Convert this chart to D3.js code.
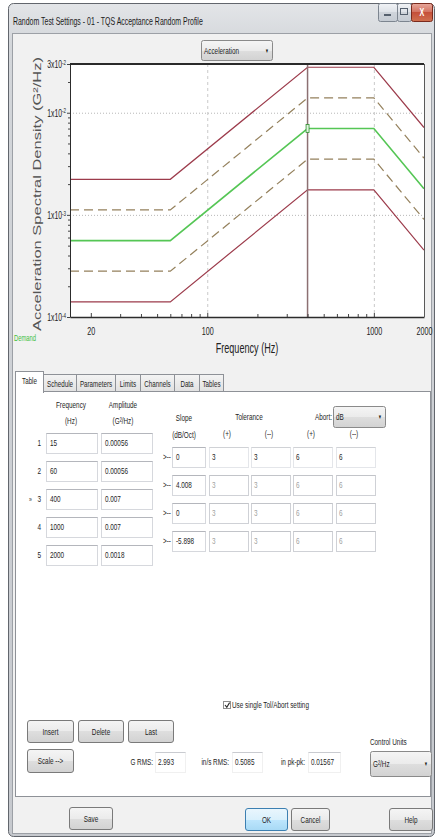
<!DOCTYPE html>
<html><head><meta charset="utf-8">
<script src="https://cdn.jsdelivr.net/npm/d3@7"></script>
<style>
html,body{margin:0;padding:0;background:#fff;}
svg{display:block;font-family:"Liberation Sans",Arial,sans-serif;}
</style></head><body>
<svg id="c" width="435" height="839"></svg>
<script>
// Random profile breakpoints
const freqHz = [15, 60, 400, 1000, 2000];
const amplitudeG2Hz = [0.00056, 0.00056, 0.007, 0.007, 0.0018];
const freqText = ["15", "60", "400", "1000", "2000"];
const amplitudeText = ["0.00056", "0.00056", "0.007", "0.007", "0.0018"];
const slopeDbOct = ["0", "4.008", "0", "-5.898"];
// Tolerance / abort limits per segment (dB)
const tolPlusDb = [3, 3, 3, 3];
const tolMinusDb = [3, 3, 3, 3];
const abortPlusDb = [6, 6, 6, 6];
const abortMinusDb = [6, 6, 6, 6];
const selectedRow = 2;
// Axis ticks
const xTickValues = [20, 100, 1000, 2000];
const yTickValues = [1e-4, 1e-3, 1e-2, 3e-2];
const yTickText = [["1x10", "-4"], ["1x10", "-3"], ["1x10", "-2"], ["3x10", "-2"]];
const tabNames = ["Table", "Schedule", "Parameters", "Limits", "Channels", "Data", "Tables"];
const summaryLabels = ["G RMS:", "in/s RMS:", "in pk-pk:"];
const summaryValues = ["2.993", "0.5085", "0.01567"];

const SX = 0.65; // narrow UI lettering
const svg = d3.select("#c");
const defs = svg.append("defs");
function grad(id, stops) {
  const g = defs.append("linearGradient").attr("id", id)
    .attr("x1", 0).attr("y1", 0).attr("x2", 0).attr("y2", 1);
  stops.forEach(([o, c]) => g.append("stop").attr("offset", o).attr("stop-color", c));
}
grad("gFrame", [[0, "#e3e5e8"], [0.05, "#d3d6da"], [1, "#c6c9ce"]]);
grad("gBtn", [[0, "#f5f5f5"], [0.5, "#ebebeb"], [0.5, "#dedede"], [1, "#d2d2d2"]]);
grad("gOk", [[0, "#eaf6fd"], [0.5, "#d9f0fc"], [0.5, "#bee6fd"], [1, "#a7d9f5"]]);
grad("gClose", [[0, "#e7a89c"], [0.45, "#d47563"], [0.5, "#c5503a"], [1, "#d0704f"]]);
grad("gCap", [[0, "#f1f3f6"], [0.5, "#dde1e7"], [0.5, "#cfd4db"], [1, "#c5cbd3"]]);
grad("gTab", [[0, "#f4f4f4"], [1, "#e1e1e1"]]);

function T(parent, x, y, s, o = {}) {
  return parent.append("text").attr("x", x).attr("y", y).attr("dy", "0.35em")
    .attr("font-size", o.size || 9.8).attr("fill", o.fill || "#1e1e1e")
    .attr("text-anchor", o.anchor || "start").text(s);
}
function box(parent, x, y, w, h, o = {}) {
  const g = parent.append("g");
  g.append("rect").attr("x", x + 0.5).attr("y", y + 0.5).attr("width", w).attr("height", h)
    .attr("fill", "#fff").attr("stroke", o.stroke || "#d6d8dd");
  g.append("line").attr("x1", x + 0.5).attr("x2", x + w + 0.5).attr("y1", y + 0.5).attr("y2", y + 0.5)
    .attr("stroke", o.top || "#b4b6bc");
  return g;
}
function button(x, y, w, h, label, ok) {
  svg.append("rect").attr("x", x + 0.5).attr("y", y + 0.5).attr("width", w).attr("height", h)
    .attr("rx", 2.5).attr("fill", ok ? "url(#gOk)" : "url(#gBtn)")
    .attr("stroke", ok ? "#3c7fb1" : "#7a7a7a");
  T(svg, x + w / 2 + 0.5, y + h / 2 + 0.5, label, { anchor: "middle" });
}
function dropdown(x, y, w, h, label) {
  svg.append("rect").attr("x", x + 0.5).attr("y", y + 0.5).attr("width", w).attr("height", h)
    .attr("rx", 2).attr("fill", "url(#gBtn)").attr("stroke", "#8a8a8a");
  T(svg, x + 3, y + h / 2 + 0.5, label);
  T(svg, x + w - 5, y + h / 2 + 0.5, "▼", { size: 6, anchor: "middle" });
}

// ---------- window frame ----------
svg.append("rect").attr("x", 8.5).attr("y", 3.5).attr("width", 426).attr("height", 833)
  .attr("rx", 5).attr("fill", "url(#gFrame)").attr("stroke", "#62666d");
svg.append("rect").attr("x", 12.5).attr("y", 33.5).attr("width", 419).attr("height", 800)
  .attr("fill", "#f1f1f1").attr("stroke", "#9ca0a6");
T(svg, 13, 21, "Random Test Settings - 01 - TQS Acceptance Random Profile", { size: 10.7, fill: "#1b1b1b" });
// caption buttons
[[378, 19], [397, 14]].forEach(([bx, bw]) => {
  svg.append("rect").attr("x", bx + 0.5).attr("y", 3.5).attr("width", bw).attr("height", 18)
    .attr("rx", 2).attr("fill", "url(#gCap)").attr("stroke", "#7d8590");
});
svg.append("rect").attr("x", 384).attr("y", 14).attr("width", 7).attr("height", 2).attr("fill", "#55606e");
svg.append("rect").attr("x", 400.5).attr("y", 8.5).attr("width", 7).attr("height", 6).attr("fill", "none").attr("stroke", "#55606e");
svg.append("rect").attr("x", 411.5).attr("y", 3.5).attr("width", 21).attr("height", 18)
  .attr("rx", 2).attr("fill", "url(#gClose)").attr("stroke", "#7a2a1d");
T(svg, 422, 12.5, "X", { size: 11, anchor: "middle", fill: "#fff" }).attr("font-weight", "bold");

// ---------- chart ----------
const x = d3.scaleLog().domain([15, 2000]).range([70, 424]);
const y = d3.scaleLog().domain([1e-4, 3e-2]).range([317, 64]);
const [x0, x1] = x.range(), [y0, y1] = y.range();

dropdown(201, 40, 71, 20, "Acceleration");

svg.append("rect").attr("x", x0).attr("y", y1).attr("width", x1 - x0).attr("height", y0 - y1).attr("fill", "#fff");
defs.append("clipPath").attr("id", "plotClip").append("rect")
  .attr("x", x0).attr("y", y1).attr("width", x1 - x0).attr("height", y0 - y1);

const grid = svg.append("g");
grid.selectAll("line.h").data([1e-3, 1e-2]).join("line").attr("class", "h")
  .attr("x1", x0).attr("x2", x1).attr("y1", d => y(d) + 0.5).attr("y2", d => y(d) + 0.5)
  .attr("stroke", "#b8b8b8").attr("stroke-dasharray", "1,2");
grid.selectAll("line.v").data([100, 1000]).join("line").attr("class", "v")
  .attr("x1", d => x(d) + 0.5).attr("x2", d => x(d) + 0.5).attr("y1", y1).attr("y2", y0)
  .attr("stroke", "#c9c9c9").attr("stroke-dasharray", "3,3");

const band = (db, sign) => amplitudeG2Hz.map((a, i) =>
  a * Math.pow(10, sign * db[Math.min(i, db.length - 1)] / 10));
const series = [
  { v: band(abortPlusDb, 1), color: "#9c3b4b", dash: null, w: 1.2 },
  { v: band(tolPlusDb, 1), color: "#94805c", dash: "9,5", w: 1.2 },
  { v: amplitudeG2Hz, color: "#55c655", dash: null, w: 1.6 },
  { v: band(tolMinusDb, -1), color: "#94805c", dash: "9,5", w: 1.2 },
  { v: band(abortMinusDb, -1), color: "#9c3b4b", dash: null, w: 1.2 }
];
const line = d3.line().x(d => x(d[0])).y(d => y(d[1]));
const lines = svg.append("g").attr("clip-path", "url(#plotClip)");
series.forEach(s => {
  lines.append("path").attr("d", line(freqHz.map((f, i) => [f, s.v[i]])))
    .attr("fill", "none").attr("stroke", s.color).attr("stroke-width", s.w)
    .attr("stroke-dasharray", s.dash);
});
// selected breakpoint cursor
const fx = x(freqHz[selectedRow]);
svg.append("line").attr("x1", fx).attr("x2", fx).attr("y1", y1).attr("y2", y0)
  .attr("stroke", "#8c7072").attr("stroke-width", 1.5);
svg.append("rect").attr("x", fx - 1.5).attr("y", y(amplitudeG2Hz[selectedRow]) - 4)
  .attr("width", 3).attr("height", 8).attr("fill", "#dff5df").attr("stroke", "#2f8f2f").attr("stroke-width", 0.8);

// axes
const xMinor = [], yMinor = [];
[10, 100, 1000].forEach(dec => { for (let k = 2; k <= 9; k++) { const v = k * dec; if (v > 15 && v < 2000 && !xTickValues.includes(v)) xMinor.push(v); } });
[1e-4, 1e-3, 1e-2].forEach(dec => { for (let k = 2; k <= 9; k++) { const v = k * dec; if (v < 3e-2 * 0.999) yMinor.push(v); } });

const gx = svg.append("g").attr("transform", `translate(0,${y0})`);
gx.call(d3.axisBottom(x).tickValues(xTickValues).tickFormat(d3.format("d"))
  .tickSize(-4).tickSizeOuter(0).tickPadding(10));
gx.append("g").call(d3.axisBottom(x).tickValues(xMinor).tickFormat(() => "").tickSize(-3).tickSizeOuter(0))
  .select(".domain").remove();
gx.selectAll("text").attr("font-size", 11).attr("fill", "#222").attr("font-family", "Liberation Sans, Arial, sans-serif");
gx.selectAll("line").attr("stroke", "#444");
gx.select(".domain").attr("stroke", "#2c2c2c").attr("stroke-width", 1.5);

const gy = svg.append("g").attr("transform", `translate(${x0},0)`);
gy.call(d3.axisLeft(y).tickValues(yTickValues).tickFormat(() => "")
  .tickSize(3).tickSizeOuter(0).tickPadding(1));
gy.append("g").call(d3.axisLeft(y).tickValues(yMinor).tickFormat(() => "").tickSize(2).tickSizeOuter(0))
  .select(".domain").remove();
gy.selectAll("line").attr("stroke", "#444");
gy.select(".domain").attr("stroke", "#2c2c2c");
gy.selectAll(".tick text").filter(function () { return this.parentNode.parentNode === gy.node(); })
  .each(function (d) {
    const i = yTickValues.indexOf(d);
    const t = d3.select(this).text(null).attr("font-size", 10.5).attr("fill", "#222")
      .attr("font-family", "Liberation Sans, Arial, sans-serif").attr("text-anchor", "end");
    t.append("tspan").text(yTickText[i][0]);
    t.append("tspan").attr("dy", "-0.45em").attr("font-size", 7).text(yTickText[i][1]);
  });
// plot frame
svg.append("line").attr("x1", x0).attr("x2", x1).attr("y1", y1).attr("y2", y1)
  .attr("stroke", "#2a2a2a").attr("stroke-width", 2);
svg.append("line").attr("x1", x1 + 0.5).attr("x2", x1 + 0.5).attr("y1", y1).attr("y2", y0)
  .attr("stroke", "#5a5a5a");

svg.append("text").attr("class", "nocomp")
  .attr("transform", "translate(37,194) rotate(-90) scale(1,0.65)")
  .attr("text-anchor", "middle").attr("dy", "0.35em").attr("font-size", 16.5).attr("fill", "#555")
  .text("Acceleration Spectral Density (G²/Hz)");
T(svg, 247, 348, "Frequency (Hz)", { size: 14, anchor: "middle", fill: "#222" });
T(svg, 14, 338, "Demand", { size: 9, fill: "#3fbf3f" });

// ---------- tab control ----------
const tabEdges = [15, 43, 76, 115, 140, 174, 199, 223];
svg.append("rect").attr("x", 15.5).attr("y", 391.5).attr("width", 415).attr("height", 405)
  .attr("fill", "#fff").attr("stroke", "#8e9197");
tabNames.forEach((name, i) => {
  if (i === 0) return;
  svg.append("rect").attr("x", tabEdges[i] + 0.5).attr("y", 374.5)
    .attr("width", tabEdges[i + 1] - tabEdges[i]).attr("height", 17)
    .attr("fill", "url(#gTab)").attr("stroke", "#8e9197");
});
tabNames.forEach((name, i) => {
  if (i === 0) return;
  T(svg, (tabEdges[i] + tabEdges[i + 1]) / 2 + 0.5, 383.5, name, { size: 9.6, anchor: "middle" });
});
svg.append("rect").attr("x", 15.5).attr("y", 371.5).attr("width", tabEdges[1] - tabEdges[0]).attr("height", 21)
  .attr("fill", "#fff").attr("stroke", "#8e9197");
svg.append("rect").attr("x", 16).attr("y", 390).attr("width", tabEdges[1] - tabEdges[0] - 1).attr("height", 3).attr("fill", "#fff");
T(svg, 29.5, 381, tabNames[0], { size: 9.6, anchor: "middle" });

// ---------- breakpoint table ----------
T(svg, 71, 405, "Frequency", { anchor: "middle" });
T(svg, 71, 421, "(Hz)", { anchor: "middle" });
T(svg, 123, 405, "Amplitude", { anchor: "middle" });
T(svg, 123, 421, "(G²/Hz)", { anchor: "middle" });
T(svg, 184, 418, "Slope", { anchor: "middle" });
T(svg, 184, 435, "(dB/Oct)", { anchor: "middle" });
T(svg, 249, 417, "Tolerance", { anchor: "middle" });
T(svg, 332, 417, "Abort:", { anchor: "end" });
dropdown(333, 406, 52, 21, "dB");
const limitCols = [209, 251, 293, 336];
["(+)", "(--)", "(+)", "(--)"].forEach((s, k) => T(svg, limitCols[k] + 18, 434, s, { anchor: "middle" }));

freqHz.forEach((f, i) => {
  const cy = 443 + 28 * i;
  if (i === selectedRow) T(svg, 29, cy, "»", { size: 8 });
  T(svg, 41, cy, String(i + 1), { anchor: "end" });
  box(svg, 46, cy - 10, 51, 20);
  T(svg, 50, cy, freqText[i]);
  box(svg, 101, cy - 10, 51, 20);
  T(svg, 105, cy, amplitudeText[i]);
});
slopeDbOct.forEach((s, j) => {
  const cy = 457 + 28 * j;
  T(svg, 163, cy, ">--");
  box(svg, 172, cy - 10, 33, 20);
  T(svg, 176, cy, s);
  const lim = [tolPlusDb[j], tolMinusDb[j], abortPlusDb[j], abortMinusDb[j]];
  lim.forEach((v, k) => {
    box(svg, limitCols[k], cy - 10, 39, 20, j === 0 ? { stroke: "#e4e6ea", top: "#d0d2d6" } : { stroke: "#cfd1d6", top: "#c2c4c9" });
    T(svg, limitCols[k] + 3, cy, String(v), { fill: j === 0 ? "#1e1e1e" : "#a0a0a0" });
  });
});

// single tolerance checkbox
svg.append("rect").attr("x", 223.5).attr("y", 701.5).attr("width", 7).attr("height", 7)
  .attr("fill", "#fff").attr("stroke", "#8f8f8f");
svg.append("path").attr("d", "M225,705 L226.8,707.2 L229.6,702.6").attr("fill", "none")
  .attr("stroke", "#2a2a2a").attr("stroke-width", 1.1);
T(svg, 232, 705, "Use single Tol/Abort setting");

// edit buttons
button(27, 720, 46, 22, "Insert");
button(78, 720, 45, 22, "Delete");
button(128, 720, 45, 22, "Last");
button(27, 749, 46, 23, "Scale -->");

// RMS summary
const sumLabelX = [155, 231, 307], sumBoxX = [155, 232, 308], sumBoxW = [30, 30, 32];
summaryLabels.forEach((s, k) => {
  T(svg, sumLabelX[k] - 2, 762, s, { anchor: "end" });
  box(svg, sumBoxX[k], 752, sumBoxW[k], 20, { stroke: "#f0f0f0", top: "#c9cbd0" });
  T(svg, sumBoxX[k] + 3, 762, summaryValues[k]);
});
T(svg, 370, 742, "Control Units");
dropdown(370, 751, 61, 25, "G²/Hz");

// dialog buttons
button(69, 807, 43, 22, "Save");
button(245, 808, 42, 22, "OK", true);
button(291, 808, 38, 22, "Cancel");
button(389, 808, 43, 22, "Help");

// narrow lettering for all horizontal text
svg.selectAll("text").each(function () {
  if (this.classList.contains("nocomp")) return;
  const tx = +this.getAttribute("x") || 0;
  this.setAttribute("transform", `translate(${tx * (1 - SX)},0) scale(${SX},1)`);
});
</script>
</body></html>
